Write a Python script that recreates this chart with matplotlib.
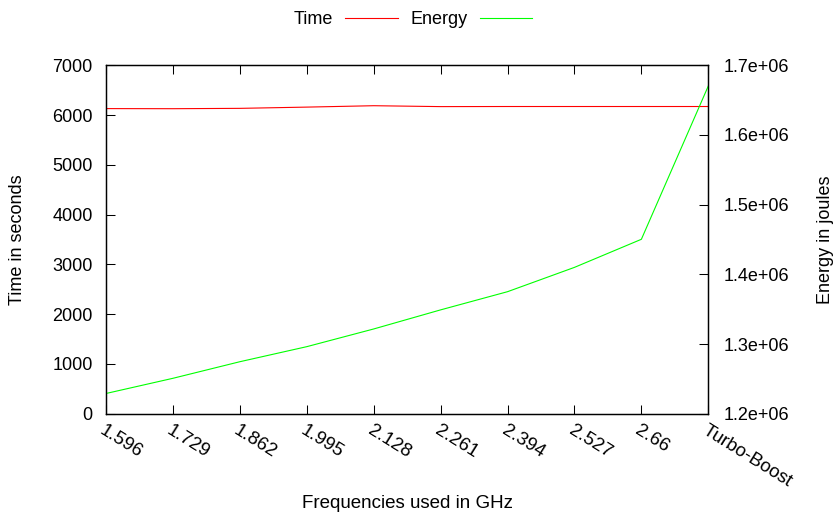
import matplotlib
matplotlib.use("Agg")
import matplotlib.pyplot as plt
from matplotlib.ticker import FuncFormatter, MultipleLocator

plt.rcParams['font.family'] = ['Liberation Sans', 'DejaVu Sans']

categories = ["1.596", "1.729", "1.862", "1.995", "2.128", "2.261", "2.394", "2.527", "2.66", "Turbo-Boost"]
time_s = [6130, 6128, 6135, 6160, 6188, 6170, 6172, 6172, 6172, 6172]
energy_j = [1.229e6, 1.2508e6, 1.2746e6, 1.2962e6, 1.3216e6, 1.349e6, 1.3751e6, 1.410e6, 1.4503e6, 1.6703e6]

W, H = 834, 513
fig = plt.figure(figsize=(W / 100, H / 100), dpi=100)
ax = fig.add_axes([106 / W, 1 - 413.7 / H, (708.3 - 106) / W, (413.7 - 65.3) / H])
ax2 = ax.twinx()

x = list(range(len(categories)))
l1, = ax.plot(x, time_s, color='#ff0000', lw=0.8, label='Time')
l2, = ax2.plot(x, energy_j, color='#00ff00', lw=0.8, label='Energy')

ax.set_xlim(0, len(categories) - 1)
ax.set_ylim(0, 7000)
ax2.set_ylim(1.2e6, 1.7e6)
ax.yaxis.set_major_locator(MultipleLocator(1000))
ax2.yaxis.set_major_locator(MultipleLocator(1e5))
ax2.yaxis.set_major_formatter(FuncFormatter(lambda v, p: '%.1e' % v))

ax.set_xticks(x)
ax.set_xticklabels(categories, rotation=-32, ha='left', va='top', rotation_mode='anchor')

fs = 13
ax.tick_params(axis='x', direction='in', length=6.5, width=0.75, top=True, bottom=True,
               labelsize=13.5, pad=6)
ax.tick_params(axis='y', direction='in', length=6.5, width=0.75, left=True, right=False,
               labelsize=fs, pad=9.5)
ax2.tick_params(axis='y', direction='in', length=6.5, width=0.75, left=False, right=True,
                labelsize=fs, pad=11)
for a in (ax, ax2):
    for s in a.spines.values():
        s.set_linewidth(0.9)
        s.set_color('black')

fig.text(18 / W, 1 - 239.5 / H, 'Time in seconds', rotation=90, ha='center', va='center', fontsize=fs)
fig.text(825 / W, 1 - 239.5 / H, 'Energy in joules', rotation=90, ha='center', va='center', fontsize=fs)
fig.text(407 / W, 1 - 503 / H, 'Frequencies used in GHz', ha='center', va='center', fontsize=13.5)

fig.legend(handles=[l1, l2], loc='center', bbox_to_anchor=(413 / W, 1 - 20 / H), ncol=2,
           frameon=False, markerfirst=False, fontsize=fs, handlelength=2.9,
           handletextpad=0.67, columnspacing=0.72)

fig.savefig('out.png', dpi=100)
